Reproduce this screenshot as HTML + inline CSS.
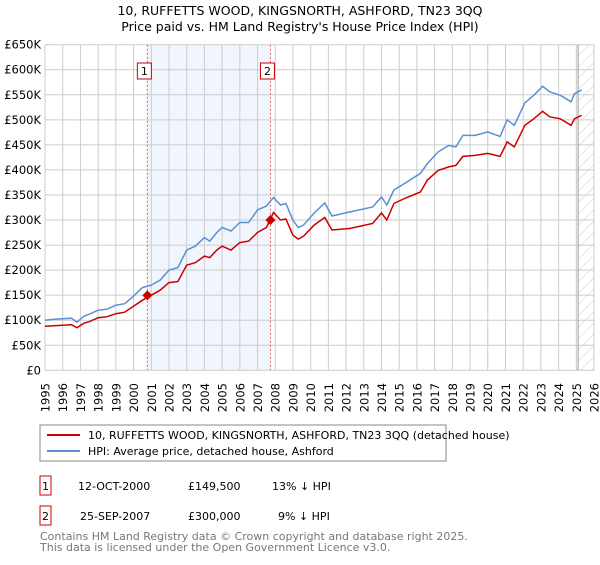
<!DOCTYPE html>
<html><head><meta charset="utf-8"><style>
body{margin:0;background:#fff;font-family:"Liberation Sans","DejaVu Sans",sans-serif;}
svg text{font-family:"DejaVu Sans","Liberation Sans",sans-serif;}
</style></head><body>
<svg id="c" width="600" height="560" xmlns="http://www.w3.org/2000/svg">
<defs><pattern id="hatch" width="8" height="8" patternUnits="userSpaceOnUse" patternTransform="rotate(45)"><line x1="0" y1="0" x2="0" y2="8" stroke="#ccc" stroke-width="1"/></pattern></defs>
<text x="300" y="15" text-anchor="middle" font-size="12.5">10, RUFFETTS WOOD, KINGSNORTH, ASHFORD, TN23 3QQ</text>
<text x="300" y="31" text-anchor="middle" font-size="12.5">Price paid vs. HM Land Registry's House Price Index (HPI)</text>
<g id="plot"></g>
<rect x="40" y="425" width="406" height="36" fill="#fff" stroke="#888"/>
<line x1="47" y1="435" x2="80" y2="435" stroke="#cc0000" stroke-width="2"/>
<text x="88" y="439" font-size="11">10, RUFFETTS WOOD, KINGSNORTH, ASHFORD, TN23 3QQ (detached house)</text>
<line x1="47" y1="451" x2="80" y2="451" stroke="#5b8fd4" stroke-width="2"/>
<text x="88" y="455" font-size="11">HPI: Average price, detached house, Ashford</text>
<g font-size="11">
<rect x="40" y="476" width="11" height="19" fill="none" stroke="#cc0000"/><text x="45.5" y="490" text-anchor="middle">1</text>
<text x="78" y="490">12-OCT-2000</text><text x="188" y="490">£149,500</text><text x="272" y="490">13% ↓ HPI</text>
<rect x="40" y="506" width="11" height="19" fill="none" stroke="#cc0000"/><text x="45.5" y="520" text-anchor="middle">2</text>
<text x="80" y="520">25-SEP-2007</text><text x="188" y="520">£300,000</text><text x="278" y="520">9% ↓ HPI</text>
</g>
<text x="40" y="540" font-size="11" fill="#777">Contains HM Land Registry data © Crown copyright and database right 2025.</text>
<text x="40" y="551" font-size="11" fill="#777">This data is licensed under the Open Government Licence v3.0.</text>
</svg>
<script>
const hpiYears=[1995,1995.5,1996,1996.5,1996.8,1997.2,1997.5,1998,1998.5,1999,1999.5,2000,2000.5,2001,2001.5,2002,2002.5,2003,2003.5,2004,2004.3,2004.7,2005,2005.5,2006,2006.5,2007,2007.5,2007.9,2008.3,2008.6,2009,2009.3,2009.6,2010.2,2010.8,2011.2,2012.2,2013.5,2014,2014.3,2014.7,2015.3,2016.2,2016.6,2017.2,2017.8,2018.2,2018.6,2019.3,2020,2020.7,2021.1,2021.5,2022.1,2022.6,2023.1,2023.5,2024.1,2024.7,2024.9,2025.3];
const hpiValues=[100,102,103,104,96,108,112,120,122,130,133,148,165,170,180,200,205,240,248,265,258,275,285,278,295,295,320,328,345,330,333,300,285,290,314,334,308,316,326,346,330,360,373,393,413,436,449,446,469,469,476,467,500,489,534,549,567,556,549,536,552,560];
const propValues=[88,89,90,91,85,94,97,105,107,113,116,128,140,150,160,175,177,210,215,228,225,240,248,240,255,258,275,285,315,300,302,270,262,268,290,305,280,283,293,314,300,333,343,356,380,399,406,409,427,429,433,427,456,446,489,502,517,506,502,489,502,509];
const yTicks=[0,50,100,150,200,250,300,350,400,450,500,550,600,650];
const yTickLabels=["£0","£50K","£100K","£150K","£200K","£250K","£300K","£350K","£400K","£450K","£500K","£550K","£600K","£650K"];
const xTicks=[1995,1996,1997,1998,1999,2000,2001,2002,2003,2004,2005,2006,2007,2008,2009,2010,2011,2012,2013,2014,2015,2016,2017,2018,2019,2020,2021,2022,2023,2024,2025,2026];
const saleYears=[2000.78,2007.73];
const saleValues=[149.5,300];
const saleLabels=["1","2"];
const X0=45,X1=594,Y0=370.3,Y1=44.7;
const xs=y=>X0+(y-1995)/(2026-1995)*(X1-X0);
const ys=v=>Y0-v/650*(Y0-Y1);
const NS="http://www.w3.org/2000/svg";
const g=document.getElementById('plot');
function mk(t,a){const e=document.createElementNS(NS,t);for(const k in a)e.setAttribute(k,a[k]);g.appendChild(e);return e;}
let e=mk('rect',{x:xs(saleYears[0]),y:Y1,width:xs(saleYears[1])-xs(saleYears[0]),height:Y0-Y1,fill:'#eef3fc',opacity:0.8});


e=mk('rect',{x:xs(2025.1),y:Y1,width:X1-xs(2025.1),height:Y0-Y1,fill:'url(#hatch)'});


yTicks.forEach((v,i)=>{
 mk('line',{x1:X0,x2:X1,y1:ys(v),y2:ys(v),stroke:'#ccc','stroke-width':1});
 const t=mk('text',{x:X0-4,y:ys(v)+4,'text-anchor':'end','font-size':11.5});t.textContent=yTickLabels[i];
 
 
});
xTicks.forEach(y=>{
 mk('line',{x1:xs(y),x2:xs(y),y1:Y1,y2:Y0,stroke:'#ccc','stroke-width':1});
 const t=mk('text',{x:0,y:0,'font-size':11.5,'text-anchor':'end',transform:`translate(${xs(y)+4.5},383) rotate(-90)`});t.textContent=y;
 
 
});
mk('line',{x1:xs(2025.1),x2:xs(2025.1),y1:Y1,y2:Y0,stroke:'#999','stroke-width':1});
saleYears.forEach((s,i)=>{
 e=mk('line',{x1:xs(s),x2:xs(s),y1:Y1,y2:Y0,stroke:'#e06060','stroke-width':1,'stroke-dasharray':'2,2'});
 
 
 mk('rect',{x:xs(s)-10,y:63,width:14,height:16,fill:'#fff',stroke:'#cc0000'});
 const t=mk('text',{x:xs(s)-3,y:75,'text-anchor':'middle','font-size':11});t.textContent=saleLabels[i];
 
 
});
function path(vals,col,name){
 const d=vals.map((v,i)=>(i?'L':'M')+xs(hpiYears[i]).toFixed(1)+','+ys(v).toFixed(1)).join('');
 const p=mk('path',{d:d,fill:'none',stroke:col,'stroke-width':1.5});
 
 
}
path(hpiValues,'#5b8fd4','hpi-line');
path(propValues,'#cc0000','property-line');
saleYears.forEach((s,i)=>{
 const cx=xs(s),cy=ys(saleValues[i]);
 const p=mk('path',{d:`M${cx},${cy-5}L${cx+5},${cy}L${cx},${cy+5}L${cx-5},${cy}Z`,fill:'#cc0000'});
 
 
});
</script>
</body></html>
